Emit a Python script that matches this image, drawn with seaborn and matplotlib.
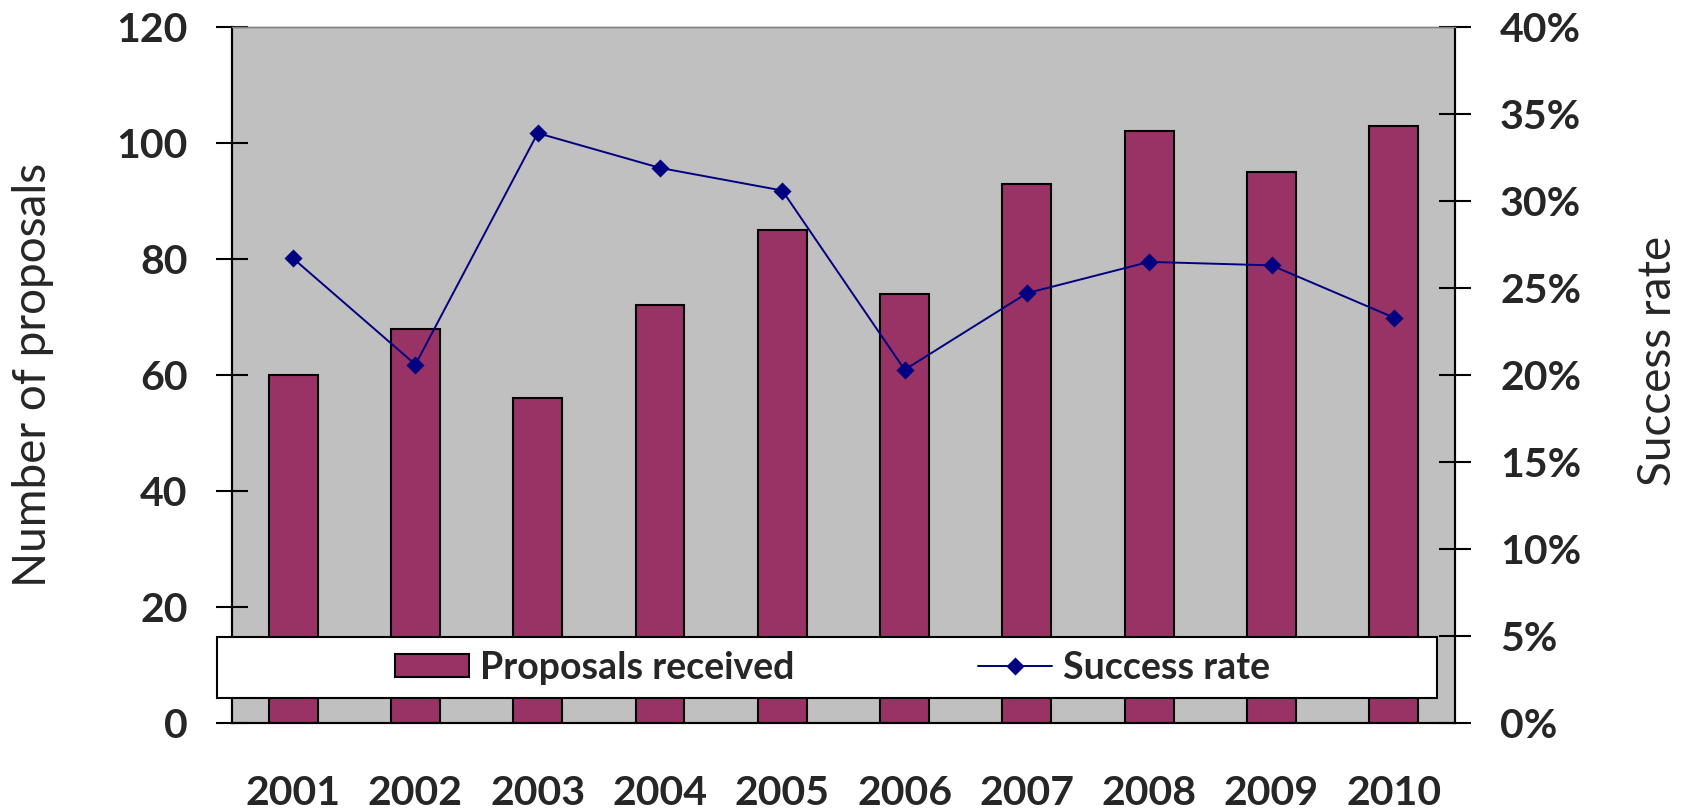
import numpy as np
import pandas as pd
import matplotlib
matplotlib.use("Agg")
import matplotlib.pyplot as plt
from matplotlib.patches import Rectangle
from matplotlib.ticker import FixedLocator, NullFormatter, FixedFormatter
import seaborn as sns

# Data
years = ["2001", "2002", "2003", "2004", "2005", "2006", "2007", "2008", "2009", "2010"]
proposals = [60, 68, 56, 72, 85, 74, 93, 102, 95, 103]
success_rate = [26.7, 20.6, 33.9, 31.9, 30.6, 20.3, 24.7, 26.5, 26.3, 23.3]
left_ticks = [0, 20, 40, 60, 80, 100, 120]
right_ticks = [0, 5, 10, 15, 20, 25, 30, 35, 40]
right_tick_labels = ["0%", "5%", "10%", "15%", "20%", "25%", "30%", "35%", "40%"]

df = pd.DataFrame({"year": years, "proposals": proposals, "rate": success_rate})

sns.set_style("white")
plt.rcParams["font.family"] = ["Lato", "DejaVu Sans"]

BAR = "#993366"
LINE = "#000080"
PLOT_BG = "#C0C0C0"
TICK_SIZE = 29.5

fig = plt.figure(figsize=(16.92, 8.10), dpi=100)
ax = fig.add_axes([0.1371, 0.1074, 0.7228, 0.8593])
ax.set_facecolor(PLOT_BG)

sns.barplot(data=df, x="year", y="proposals", color=BAR, saturation=1,
            width=0.4, edgecolor="black", linewidth=1.5, ax=ax)
ax.set_ylim(0, 120)
ax.set_yticks(left_ticks)

ax2 = ax.twinx()
sns.pointplot(data=df, x="year", y="rate", color=LINE, markers="D",
              errorbar=None, markersize=8, linewidth=1.4, ax=ax2)
ax2.set_ylim(0, 40)
ax2.set_yticks(right_ticks)
ax2.set_yticklabels(right_tick_labels)

# x axis: ticks on category boundaries, year labels at centres
ax.set_xlim(-0.5, 9.5)
ax.xaxis.set_major_locator(FixedLocator(np.arange(-0.5, 10, 1)))
ax.xaxis.set_major_formatter(NullFormatter())
ax.xaxis.set_minor_locator(FixedLocator(np.arange(10)))
ax.xaxis.set_minor_formatter(FixedFormatter(years))
ax.tick_params(axis="x", which="major", direction="inout", length=21, width=1.5, color="black")
ax.tick_params(axis="x", which="minor", length=0, pad=37.5, labelsize=TICK_SIZE)
for lbl in ax.xaxis.get_minorticklabels():
    lbl.set_fontweight("bold")

ax.tick_params(axis="y", direction="inout", length=23, width=1.5, color="black",
               pad=20.5, labelsize=TICK_SIZE)
ax2.tick_params(axis="y", direction="inout", length=23, width=1.5, color="black",
                pad=21, labelsize=TICK_SIZE)
for lbl in ax.get_yticklabels() + ax2.get_yticklabels():
    lbl.set_fontweight("bold")

ax.set_xlabel("")
ax.set_ylabel("Number of proposals", fontsize=33, va="center")
ax.yaxis.set_label_coords(-0.1627, 0.5)
ax2.set_ylabel("Success rate", fontsize=33, va="center", rotation=90)
ax2.yaxis.set_label_coords(1.166, 0.52)

for a in (ax, ax2):
    a.grid(False)
    for side in ("left", "right", "bottom"):
        a.spines[side].set_visible(True)
        a.spines[side].set_color("black")
        a.spines[side].set_linewidth(1.5)
    a.spines["top"].set_color("#808080")
    a.spines["top"].set_linewidth(1.0)

# Legend panel across the lower part of the plot
fig.add_artist(Rectangle((0.1283, 0.1383), 0.7210, 0.0753, transform=fig.transFigure,
                         facecolor="white", edgecolor="black", linewidth=1.5, zorder=4))
handles = [ax.containers[0], ax2.lines[0]]
fig.legend(handles, ["Proposals received", "Success rate"], loc="center",
           bbox_to_anchor=(0.492, 0.1759), ncol=2, frameon=False,
           prop={"family": ["Lato", "DejaVu Sans"], "weight": "bold", "size": 27},
           handlelength=1.97, handleheight=0.59, handletextpad=0.29,
           columnspacing=4.9).set_zorder(5)

fig.savefig("out.png", dpi=100, facecolor="white")
